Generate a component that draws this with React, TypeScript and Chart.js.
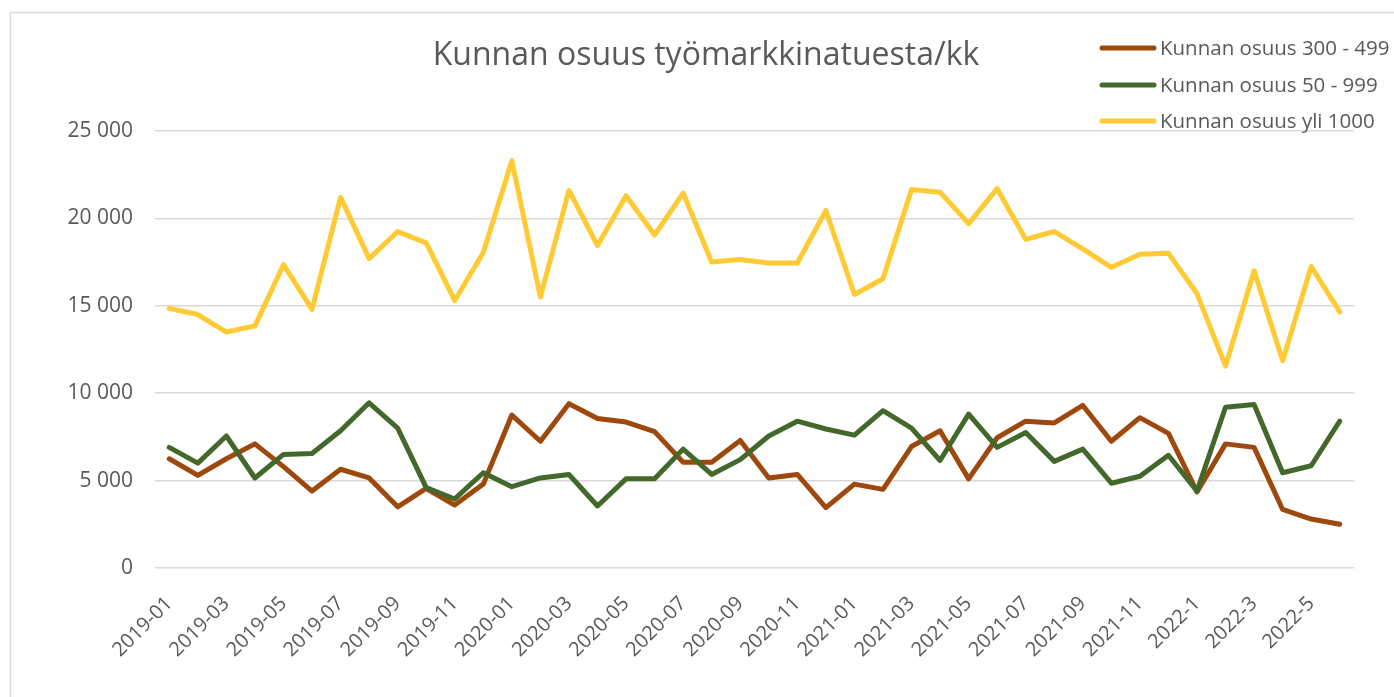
import React, { useEffect, useRef } from "react";
import { Chart, registerables } from "chart.js";

Chart.register(...registerables);

const categories: string[] = [
  "2019-01", "2019-02", "2019-03", "2019-04", "2019-05", "2019-06", "2019-07", "2019-08", "2019-09", "2019-10", "2019-11", "2019-12",
  "2020-01", "2020-02", "2020-03", "2020-04", "2020-05", "2020-06", "2020-07", "2020-08", "2020-09", "2020-10", "2020-11", "2020-12",
  "2021-01", "2021-02", "2021-03", "2021-04", "2021-05", "2021-06", "2021-07", "2021-08", "2021-09", "2021-10", "2021-11", "2021-12",
  "2022-1", "2022-2", "2022-3", "2022-4", "2022-5", "2022-6",
];

const series300to499: number[] = [
  6250, 5300, 6250, 7100, 5800, 4400, 5650, 5150, 3500, 4550, 3600, 4800,
  8750, 7250, 9400, 8550, 8350, 7800, 6050, 6050, 7300, 5150, 5350, 3450,
  4800, 4500, 6950, 7850, 5100, 7450, 8400, 8300, 9300, 7250, 8600, 7700,
  4350, 7100, 6900, 3350, 2800, 2500,
];

const series50to999: number[] = [
  6900, 6000, 7550, 5150, 6500, 6550, 7850, 9450, 8000, 4600, 3950, 5450,
  4650, 5150, 5350, 3550, 5100, 5100, 6800, 5350, 6200, 7550, 8400, 7950,
  7600, 9000, 8000, 6150, 8800, 6900, 7750, 6100, 6800, 4850, 5250, 6450,
  4400, 9200, 9350, 5450, 5850, 8400,
];

const seriesOver1000: number[] = [
  14850, 14500, 13500, 13850, 17350, 14800, 21200, 17700, 19250, 18600, 15300, 18050,
  23300, 15500, 21600, 18450, 21300, 19050, 21450, 17500, 17650, 17450, 17450, 20450,
  15650, 16550, 21650, 21500, 19700, 21700, 18800, 19250, 18250, 17200, 17950, 18000,
  15700, 11550, 17000, 11850, 17250, 14650,
];

const seriesNames: string[] = [
  "Kunnan osuus 300 - 499",
  "Kunnan osuus 50 - 999",
  "Kunnan osuus yli 1000",
];

const titleText = "Kunnan osuus työmarkkinatuesta/kk";

const COLORS = ["#9E480E", "#43682B", "#FFCA33"];
const TEXT = "#595959";
const FONT = "'Open Sans', 'Noto Sans', sans-serif";

const fmt = (v: number) => String(v).replace(/\B(?=(\d{3})+(?!\d))/g, " ");

const decorPlugin = {
  id: "decor",
  beforeDraw(chart: any) {
    const ctx = chart.ctx;
    ctx.save();
    ctx.fillStyle = "#ffffff";
    ctx.fillRect(0, 0, chart.width, chart.height);
    ctx.strokeStyle = "#d9d9d9";
    ctx.lineWidth = 1.5;
    ctx.beginPath();
    ctx.moveTo(10.5, chart.height + 5);
    ctx.lineTo(10.5, 12.5);
    ctx.lineTo(chart.width + 5, 12.5);
    ctx.stroke();
    ctx.restore();
  },
  afterDraw(chart: any) {
    const ctx = chart.ctx;
    ctx.save();
    // title
    ctx.fillStyle = TEXT;
    ctx.font = `32px ${FONT}`;
    ctx.textAlign = "center";
    ctx.textBaseline = "middle";
    ctx.fillText(titleText, 706, 56);
    // legend
    ctx.font = `20.5px ${FONT}`;
    ctx.textAlign = "left";
    const rows = [48, 85, 121];
    seriesNames.forEach((name, i) => {
      const y = rows[i];
      ctx.strokeStyle = COLORS[i];
      ctx.lineWidth = 5;
      ctx.lineCap = "round";
      ctx.beginPath();
      ctx.moveTo(1102, y);
      ctx.lineTo(1154, y);
      ctx.stroke();
      ctx.fillStyle = TEXT;
      ctx.fillText(name, 1160, y + 1);
    });
    ctx.restore();
  },
};

export default function App() {
  const ref = useRef<HTMLCanvasElement>(null);
  useEffect(() => {
    if (!ref.current) return;
    const mk = (i: number, data: number[], order: number) => ({
      label: seriesNames[i],
      data,
      borderColor: COLORS[i],
      backgroundColor: COLORS[i],
      borderWidth: 5,
      pointRadius: 0,
      pointHoverRadius: 0,
      tension: 0,
      borderJoinStyle: "round" as const,
      borderCapStyle: "round" as const,
      order,
    });
    const chart = new Chart(ref.current, {
      type: "line",
      data: {
        labels: categories,
        datasets: [
          mk(0, series300to499, 2),
          mk(1, series50to999, 1),
          mk(2, seriesOver1000, 0),
        ],
      },
      options: {
        animation: false,
        responsive: false,
        maintainAspectRatio: false,
        layout: { padding: { left: 0, top: 131, right: 40, bottom: 0 } },
        plugins: {
          legend: { display: false },
          title: { display: false },
          tooltip: { enabled: false },
        },
        scales: {
          x: {
            offset: true,
            grid: { display: false, drawTicks: false },
            border: { display: false },
            afterFit: (s: any) => {
              s.height = 697 - 568;
            },
            ticks: {
              autoSkip: false,
              maxRotation: 45,
              minRotation: 45,
              padding: 24,
              color: TEXT,
              font: { family: FONT, size: 20 },
              callback: (_v: any, idx: number) => (idx % 2 === 0 ? categories[idx] : ""),
            },
          },
          y: {
            min: 0,
            max: 25000,
            grid: { color: "#d9d9d9", lineWidth: 1.5, drawTicks: false },
            border: { display: false },
            afterFit: (s: any) => {
              s.width = 155;
            },
            ticks: {
              stepSize: 5000,
              padding: 22,
              color: TEXT,
              font: { family: FONT, size: 21 },
              callback: (v: any) => fmt(Number(v)),
            },
          },
        },
      },
      plugins: [decorPlugin],
    });
    return () => chart.destroy();
  }, []);
  return (
    <div style={{ position: "fixed", left: 0, top: 0, width: 1394, height: 697, background: "#fff" }}>
      <canvas ref={ref} width={1394} height={697} style={{ width: 1394, height: 697, display: "block" }} />
    </div>
  );
}
